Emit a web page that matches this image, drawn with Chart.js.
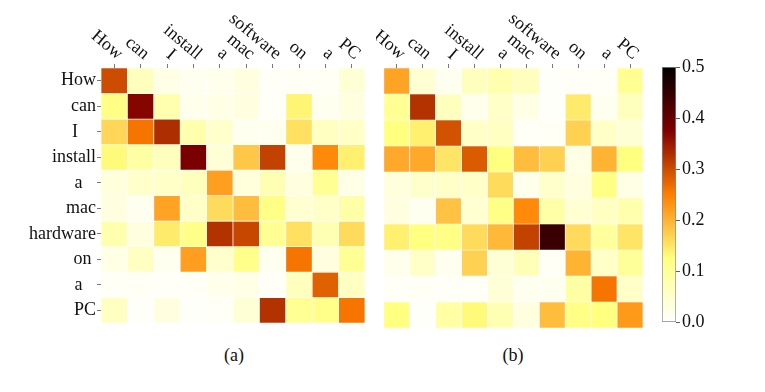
<!DOCTYPE html>
<html>
<head>
<meta charset="utf-8">
<script src="https://cdn.jsdelivr.net/npm/chart.js@4.4.1/dist/chart.umd.min.js"></script>
<style>
    html, body { margin: 0; padding: 0; background: #fff; }
    body { width: 765px; height: 392px; position: relative; overflow: hidden; font-family: "Liberation Serif", serif; }
    .panel { position: absolute; top: 0; height: 335px; }
    .caption { position: absolute; top: 345px; font-size: 18px; color: #111; transform: translateX(-50%); }
</style>
</head>
<body>
<div class="panel" style="left:0;width:370px"><canvas id="heatA"></canvas></div>
<div class="panel" style="left:376px;width:272px"><canvas id="heatB"></canvas></div>
<div class="panel" style="left:650px;width:115px"><canvas id="colorBar"></canvas></div>
<div class="caption" style="left:234px">(a)</div>
<div class="caption" style="left:513px">(b)</div>
<script>
// row labels keep the trailing spaces the original figure had
const rowLabels = ["How", "can", "I    ", "install", "a   ", "mac", "hardware", "on ", "a   ", "PC"];
const colLabels = ["How", "can", "I", "install", "a", "mac", "software", "on", "a", "PC"];
const colorTicks = [0.0, 0.1, 0.2, 0.3, 0.4, 0.5];

const valuesA = [
    [0.30, 0.065, 0.025, 0.015, 0.02, 0.03, 0.008, 0.01, 0.01, 0.04],
    [0.12, 0.37, 0.08, 0.02, 0.025, 0.03, 0.008, 0.135, 0.015, 0.03],
    [0.165, 0.26, 0.33, 0.08, 0.05, 0.015, 0.015, 0.155, 0.06, 0.055],
    [0.13, 0.09, 0.065, 0.38, 0.04, 0.18, 0.31, 0.02, 0.24, 0.14],
    [0.035, 0.05, 0.055, 0.065, 0.22, 0.035, 0.075, 0.03, 0.105, 0.025],
    [0.03, 0.015, 0.215, 0.055, 0.16, 0.19, 0.12, 0.045, 0.055, 0.085],
    [0.08, 0.03, 0.145, 0.115, 0.325, 0.305, 0.105, 0.155, 0.075, 0.16],
    [0.025, 0.06, 0.015, 0.22, 0.05, 0.115, 0.015, 0.26, 0.03, 0.105],
    [0.01, 0.01, 0.008, 0.008, 0.02, 0.025, 0.008, 0.065, 0.28, 0.06],
    [0.06, 0.005, 0.03, 0.005, 0.01, 0.04, 0.325, 0.105, 0.115, 0.26],
];

const valuesB = [
    [0.215, 0.045, 0.015, 0.065, 0.08, 0.065, 0.005, 0.008, 0.008, 0.105],
    [0.105, 0.325, 0.065, 0.02, 0.055, 0.025, 0.005, 0.145, 0.015, 0.065],
    [0.125, 0.14, 0.295, 0.055, 0.06, 0.01, 0.01, 0.17, 0.055, 0.04],
    [0.21, 0.21, 0.15, 0.285, 0.125, 0.19, 0.17, 0.025, 0.20, 0.125],
    [0.035, 0.05, 0.055, 0.055, 0.16, 0.02, 0.05, 0.03, 0.12, 0.025],
    [0.03, 0.015, 0.185, 0.045, 0.12, 0.24, 0.085, 0.045, 0.06, 0.08],
    [0.14, 0.125, 0.12, 0.16, 0.195, 0.31, 0.445, 0.16, 0.095, 0.15],
    [0.02, 0.055, 0.015, 0.17, 0.04, 0.07, 0.01, 0.20, 0.055, 0.10],
    [0.008, 0.01, 0.008, 0.008, 0.04, 0.015, 0.015, 0.09, 0.26, 0.055],
    [0.125, 0.005, 0.09, 0.13, 0.075, 0.03, 0.19, 0.12, 0.125, 0.225],
];

const colorMin = colorTicks[0];
const colorMax = colorTicks[colorTicks.length - 1];
const labelFont = { family: "'Liberation Serif', serif", size: 18 };

// afmhot reversed
function heatColor(v) {
    const t = Math.min(Math.max((v - colorMin) / (colorMax - colorMin), 0), 1);
    const x = 1 - t;
    const c = (k) => Math.round(255 * Math.min(Math.max(k, 0), 1));
    return `rgb(${c(2 * x)}, ${c(2 * x - 0.5)}, ${c(2 * x - 1)})`;
}

const topLabels = {
    id: "topLabels",
    afterDraw(chart) {
        const scale = chart.scales.x;
        const ctx = chart.ctx;

        ctx.save();
        ctx.font = `${labelFont.size}px ${labelFont.family}`;
        ctx.fillStyle = "#111";
        ctx.textAlign = "right";
        ctx.textBaseline = "alphabetic";

        colLabels.forEach((label, i) => {
            const px = scale.getPixelForTick(i);
            ctx.save();
            ctx.translate(px + 3, scale.bottom - 8);
            ctx.rotate(40 * Math.PI / 180);
            ctx.fillText(label, 0, 0);
            ctx.restore();
        });

        ctx.restore();
    }
};

function makeHeatmap(canvasId, values, showRows, padding) {
    const datasets = rowLabels.map((name, r) => ({
        label: name,
        data: colLabels.map(() => [r, r + 1]),
        backgroundColor: values[r].map(heatColor),
        borderColor: "#fff",
        borderWidth: 0.7,
        borderSkipped: false,
        barPercentage: 1,
        categoryPercentage: 1,
        grouped: false,
    }));

    return new Chart(document.getElementById(canvasId), {
        type: "bar",
        data: { labels: colLabels, datasets },
        plugins: [topLabels],
        options: {
            responsive: true,
            maintainAspectRatio: false,
            animation: false,
            events: [],
            layout: { padding },
            plugins: { legend: { display: false }, tooltip: { enabled: false } },
            scales: {
                x: {
                    type: "category",
                    position: "top",
                    border: { display: false },
                    grid: { drawOnChartArea: false, offset: false, tickLength: 4, color: "#555", lineWidth: 0.8 },
                    ticks: { color: "rgba(0,0,0,0)", autoSkip: false, maxRotation: 0, font: labelFont },
                    afterFit: (s) => { s.height = 68; },
                },
                y: {
                    type: "linear",
                    display: showRows,
                    min: 0,
                    max: rowLabels.length,
                    reverse: true,
                    border: { display: false },
                    grid: { drawOnChartArea: false, tickLength: 4, color: "#555", lineWidth: 0.8 },
                    afterBuildTicks: (axis) => {
                        axis.ticks = rowLabels.map((_, i) => ({ value: i + 0.5 }));
                    },
                    ticks: {
                        color: "#111",
                        font: labelFont,
                        padding: 1,
                        callback: (v) => rowLabels[Math.floor(v)],
                    },
                    afterFit: (s) => { s.width = showRows ? 101 : 0; },
                },
            },
        },
    });
}

function makeColorBar() {
    return new Chart(document.getElementById("colorBar"), {
        type: "bar",
        data: {
            labels: [""],
            datasets: [{
                data: [[colorMin, colorMax]],
                backgroundColor: (context) => {
                    const area = context.chart.chartArea;
                    if (!area) return null;
                    const g = context.chart.ctx.createLinearGradient(0, area.bottom, 0, area.top);
                    for (let i = 0; i <= 40; i++) {
                        const t = i / 40;
                        g.addColorStop(t, heatColor(colorMin + t * (colorMax - colorMin)));
                    }
                    return g;
                },
                borderColor: "#8a8a8a",
                borderWidth: 1,
                borderSkipped: false,
                barPercentage: 1,
                categoryPercentage: 1,
            }],
        },
        options: {
            responsive: true,
            maintainAspectRatio: false,
            animation: false,
            events: [],
            layout: { padding: { left: 12, right: 0, top: 67, bottom: 7 } },
            plugins: { legend: { display: false }, tooltip: { enabled: false } },
            scales: {
                x: { display: false },
                y: {
                    position: "right",
                    min: colorMin,
                    max: colorMax,
                    border: { display: false },
                    grid: { drawOnChartArea: false, tickLength: 4, color: "#333", lineWidth: 0.8 },
                    afterBuildTicks: (axis) => {
                        axis.ticks = colorTicks.map((v) => ({ value: v }));
                    },
                    ticks: {
                        color: "#111",
                        font: labelFont,
                        padding: 2,
                        callback: (v) => Number(v).toFixed(1),
                    },
                    afterFit: (s) => { s.width = 89; },
                },
            },
        },
    });
}

makeHeatmap("heatA", valuesA, true, { left: 0, right: 5, top: 0, bottom: 7 });
makeHeatmap("heatB", valuesB, false, { left: 5, right: 5, top: 0, bottom: 7 });
makeColorBar();
</script>
</body>
</html>
